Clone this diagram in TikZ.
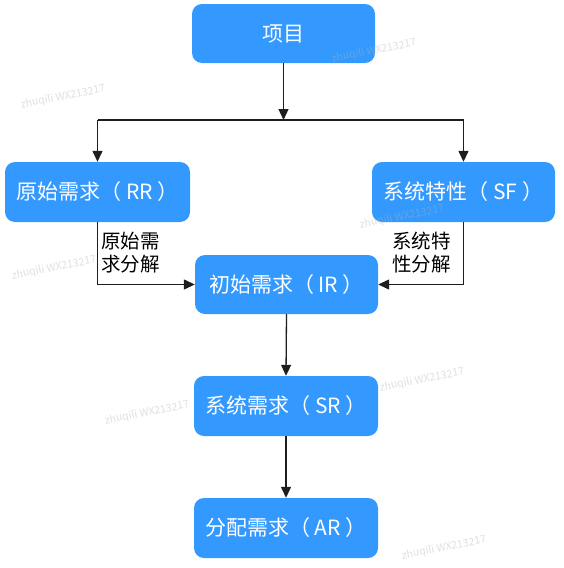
\documentclass[tikz,border=0pt]{standalone}
\usepackage{fontspec}
\setmainfont{Noto Sans CJK SC}
\newfontfamily\cjk{Noto Sans CJK SC}
\usetikzlibrary{arrows.meta,positioning}
\definecolor{boxblue}{HTML}{3399FF}
\definecolor{linegray}{HTML}{1E1E1E}
\tikzset{
  bluebox/.style={draw=none, fill=boxblue, rounded corners=10pt, minimum width=183pt, minimum height=59pt,
    text=white, font=\cjk\fontsize{21}{25}\selectfont, inner sep=0pt},
  conn/.style={draw=linegray, line width=1.3pt, -{Triangle[length=11pt,width=10pt]}},
  plainline/.style={draw=linegray, line width=1.3pt},
  edgelabel/.style={font=\cjk\fontsize{19.5}{23}\selectfont, align=left, text=black, inner sep=0pt},
  wmark/.style={font=\cjk\fontsize{10.5}{12}\selectfont, text=gray!60, opacity=0.4, rotate=11, inner sep=0pt}
}
\begin{document}
\begin{tikzpicture}[x=1pt,y=-1pt]
\useasboundingbox (0,0) rectangle (563,568);
\fill[white] (0,0) rectangle (563,568);

\node[bluebox] (xm) at (283.5,33.5) {项目};
\node[bluebox, minimum width=185pt, minimum height=60pt] (rr) at (97.5,192) {原始需求（ RR ）};
\node[bluebox, minimum height=60pt] (sf) at (463.5,192) {系统特性（ SF ）};
\node[bluebox] (ir) at (286.5,284.5) {初始需求（ IR ）};
\node[bluebox, minimum width=184pt, minimum height=60pt] (sr) at (286,406) {系统需求（ SR ）};
\node[bluebox, minimum width=184pt, minimum height=60pt] (ar) at (286,528) {分配需求（ AR ）};

\coordinate (split) at (283.5,120);
\coordinate (lefttop) at (97.5,120);
\coordinate (righttop) at (463.5,120);

\draw[conn] (xm.south) -- (split);
\draw[plainline] (lefttop) -- (righttop);
\draw[conn] (lefttop) -- (rr.north);
\draw[conn] (righttop) -- (sf.north);

\draw[conn] (rr.south) |- (ir.west);
\draw[conn] (sf.south) |- (ir.east);
\draw[conn] (ir.south) -- (sr.north);
\draw[conn] (sr.south) -- (ar.north);

\node[edgelabel, anchor=west] (lab1) at (101,253) {原始需\\求分解};
\node[edgelabel, anchor=east] (lab2) at (451,253) {系统特\\性分解};

\node[wmark] (w1) at (374,51) {zhuqili WX213217};
\node[wmark] (w2) at (63,97) {zhuqili WX213217};
\node[wmark] (w3) at (54,268) {zhuqili WX213217};
\node[wmark] (w4) at (402,217) {zhuqili WX213217};
\node[wmark] (w5) at (422,380) {zhuqili WX213217};
\node[wmark] (w6) at (147,413) {zhuqili WX213217};
\node[wmark] (w7) at (444,548) {zhuqili WX213217};
\end{tikzpicture}
\end{document}
